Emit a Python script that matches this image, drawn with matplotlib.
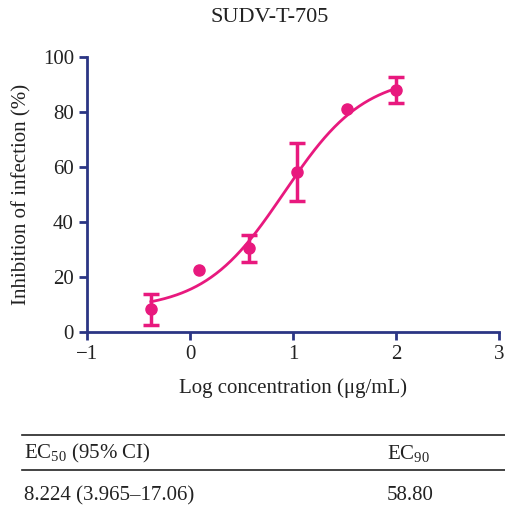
import numpy as np
import matplotlib
matplotlib.use('Agg')
import matplotlib.pyplot as plt

plt.rcParams['font.family'] = ['Liberation Serif', 'DejaVu Serif']
plt.rcParams['mathtext.fontset'] = 'custom'
plt.rcParams['mathtext.rm'] = 'Liberation Serif'
plt.rcParams['mathtext.it'] = 'Liberation Serif:italic'

# Datos medidos
log_conc = [-0.38, 0.09, 0.57, 1.04, 1.52, 2.0]
inhibicion = [8.4, 22.5, 30.5, 58.2, 81.0, 88.0]
err_inf = [5.9, None, 5.0, 10.6, None, 4.7]
err_sup = [5.4, None, 4.8, 10.5, None, 4.7]

# Parámetros del ajuste sigmoide (4PL)
fondo, techo = 8.05, 93.5
log_ec50, pendiente = 0.915, 1.117

# Tabla
encabezados = ['EC$_{\\mathrm{50}}$ (95% CI)', 'EC$_{\\mathrm{90}}$']
valores = ['8.224 (3.965–17.06)', '58.80']

rosa = '#E8197E'
azul = '#2B3584'
texto = '#222222'

fig = plt.figure(figsize=(5.06, 5.14), dpi=100)
ax = fig.add_axes([87 / 506, 1 - 332 / 514, 412 / 506, 275 / 514])

xs = np.linspace(log_conc[0], log_conc[-1], 200)
ys = fondo + (techo - fondo) / (1 + 10 ** ((log_ec50 - xs) * pendiente))
ax.plot(xs, ys, color=rosa, lw=2)

ax.plot(log_conc, inhibicion, 'o', color=rosa, ms=8, clip_on=False)
con_err = [i for i, e in enumerate(err_inf) if e is not None]
ax.errorbar([log_conc[i] for i in con_err], [inhibicion[i] for i in con_err],
            yerr=[[err_inf[i] for i in con_err], [err_sup[i] for i in con_err]],
            fmt='none', ecolor=rosa, elinewidth=2.5, capsize=6, capthick=2.5, clip_on=False)

ax.set_xlim(-1, 3)
ax.set_ylim(0, 100)
ax.set_xticks([-1, 0, 1, 2, 3])
ax.set_yticks([0, 20, 40, 60, 80, 100])
for s in ['top', 'right']:
    ax.spines[s].set_visible(False)
for s in ['left', 'bottom']:
    ax.spines[s].set_color(azul)
    ax.spines[s].set_linewidth(2)
ax.tick_params(colors=azul, width=2, length=6, labelsize=15, labelcolor=texto)
ax.set_xlabel('Log concentration (μg/mL)', fontsize=15, color=texto, labelpad=10)
ax.set_ylabel('Inhibition of infection (%)', fontsize=15, color=texto, labelpad=8)

fig.text(270 / 506, 1 - 18 / 514, 'SUDV-T-705', fontsize=16, ha='center', va='center', color=texto)

# tabla inferior
fig.add_artist(plt.Line2D([22 / 506, 1], [1 - 435 / 514] * 2, color=texto, lw=1.2))
fig.add_artist(plt.Line2D([22 / 506, 1], [1 - 470 / 514] * 2, color=texto, lw=1.2))
fig.text(24 / 506, 1 - 453 / 514, encabezados[0], fontsize=15, va='center', color=texto)
fig.text(387 / 506, 1 - 453 / 514, encabezados[1], fontsize=15, va='center', color=texto)
fig.text(24 / 506, 1 - 496 / 514, valores[0], fontsize=15, va='center', color=texto)
fig.text(387 / 506, 1 - 496 / 514, valores[1], fontsize=15, va='center', color=texto)

fig.savefig('out.png', dpi=100)
